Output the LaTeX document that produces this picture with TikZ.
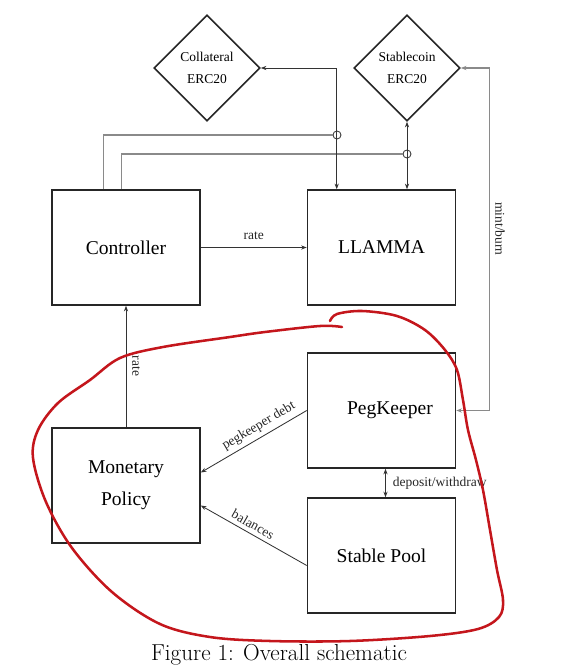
\documentclass[tikz,border=0pt]{standalone}
\usepackage{fontspec}
\setmainfont{Liberation Serif}
\newfontfamily\capfont{Latin Modern Roman}
\usetikzlibrary{shapes.geometric, arrows.meta, calc}
\definecolor{inkline}{HTML}{333333}
\definecolor{greyline}{HTML}{8A8A8A}
\definecolor{marker}{HTML}{C4161C}
\tikzset{
    block/.style={draw=black!85, line width=1.1pt, minimum width=3.7cm, minimum height=2.875cm,
        align=center, font=\fontsize{13.9}{22.7}\selectfont},
    token/.style={draw=black!85, line width=1.1pt, diamond, minimum width=2.65cm, minimum height=2.65cm,
        inner sep=1pt, align=center, font=\fontsize{9.6}{15.6}\selectfont},
    flow/.style={draw=inkline, line width=0.6pt, -{Stealth[length=4pt,width=3pt]}},
    feed/.style={draw=greyline, line width=0.9pt},
    jump/.style={circle, draw=inkline, line width=0.6pt, inner sep=0pt, minimum size=0.2cm, fill=white},
    lbl/.style={font=\fontsize{9.6}{11}\selectfont, text=black!85, inner sep=1pt}
}
\begin{document}
\begin{tikzpicture}[x=0.025cm, y=-0.025cm]
    \useasboundingbox (0,0) rectangle (578,665);
    % Tokens
    \node[token] (coll) at (207,68) {Collateral\\ERC20};
    \node[token] (stab) at (407,68) {Stablecoin\\ERC20};
    % Blocks
    \node[block] (ctrl) at (126,247.5) {Controller};
    \node[block] (llamma) at (381.5,247.5) {LLAMMA};
    \node[block] (peg) at (381.5,410.5) {\hspace{12pt}PegKeeper};
    \node[block] (pool) at (381.5,555.5) {Stable Pool};
    \node[block] (mon) at (126,485.5) {Monetary\\Policy};
    % Crossings
    \node[jump] (j1) at (337,135) {};
    \node[jump] (j2) at (407,154) {};

    % Controller feeds to the crossings
    \draw[feed] ($(ctrl.north west)+(52,0)$) |- (j1.west);
    \draw[feed] ($(ctrl.north west)+(70,0)$) |- (j2.west);
    \draw[flow, {Stealth[length=4pt,width=3pt]}-{Stealth[length=4pt,width=3pt]}]
        (coll.east) -| ($(llamma.north west)+(30,0)$);
    \draw[flow, {Stealth[length=4pt,width=3pt]}-{Stealth[length=4pt,width=3pt]}]
        (stab.south) -- (stab.south |- llamma.north);
    \draw[feed, {Stealth[length=4pt,width=3pt]}-{Stealth[length=4pt,width=3pt]}]
        (peg.east) -- ++(33,0) |- (stab.east);
    \node[lbl, rotate=-90] (mint) at (500,229) {mint/burn};

    % Rates and signals
    \draw[flow] (ctrl.east) -- node[lbl, above=4pt] {rate} (llamma.west);
    \node[lbl, rotate=-90] (ratev) at (136,366) {rate};
    \draw[flow] (mon.north) -- (ctrl.south);
    \draw[flow] (peg.west) -- node[lbl, sloped, above=2pt, pos=0.4] {pegkeeper debt} ($(mon.east)+(0,-13)$);
    \draw[flow] ($(pool.west)+(0,10)$) -- node[lbl, sloped, above=2pt, pos=0.55] {balances} ($(mon.east)+(0,20)$);
    \draw[flow, {Stealth[length=4pt,width=3pt]}-{Stealth[length=4pt,width=3pt]}]
        ($(peg.south)+(4,0)$) -- node[lbl, right=4pt] {deposit/withdraw} ($(pool.north)+(4,0)$);

    % Hand-drawn marker loop
    \draw[marker, line width=1.8pt, line cap=round] plot[smooth, tension=0.55] coordinates {
        (330,321) (337,314) (362,311) (397,316) (425,330) (445,350) (457,370) (463,400)
        (468,430) (476,460) (483,490) (490,530) (497,570) (503,600) (499,617) (478,629)
        (430,636) (350,641) (270,641) (210,637) (160,624) (112,592) (72,548) (46,502)
        (33,458) (38,430) (58,403) (90,380) (120,358) (163,347) (230,337) (265,332)
        (320,326) (342,327)};

    % Caption
    \node[font=\capfont\fontsize{16.4}{18}\selectfont] (cap) at (279,655) {Figure 1: Overall schematic};
\end{tikzpicture}
\end{document}
